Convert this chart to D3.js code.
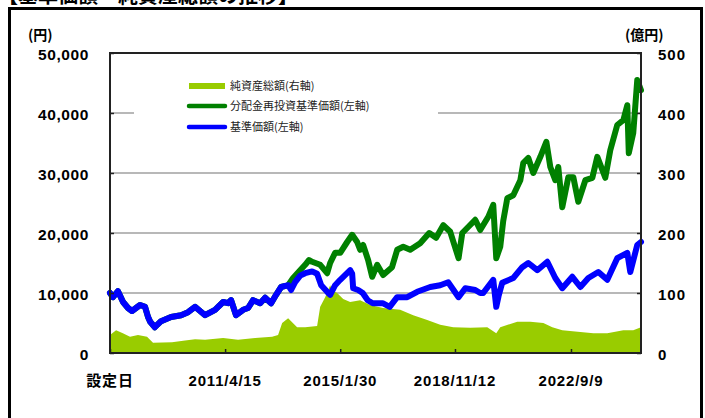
<!DOCTYPE html>
<html>
<head>
<meta charset="utf-8">
<script src="https://cdn.jsdelivr.net/npm/d3@7"></script>
<style>
  body { margin: 0; background: #fff; }
  svg { display: block; }
</style>
</head>
<body>
<script>
// 基準価額（円）
var navDates = ["2007-06-29","2007-08-04","2007-10-03","2007-12-03","2008-02-01","2008-03-20","2008-06-25","2008-08-24",
  "2008-09-29","2008-10-25","2008-12-20","2009-03-05","2009-07-03","2009-11-01","2010-01-24","2010-04-18","2010-08-17",
  "2010-12-15","2011-03-22","2011-05-21","2011-06-26","2011-08-25","2011-11-18","2012-01-17","2012-03-17","2012-06-10",
  "2012-08-09","2012-10-20","2012-12-19","2013-02-18","2013-05-13","2013-06-18","2013-08-05","2013-10-05","2013-12-04",
  "2014-02-26","2014-04-27","2014-06-15","2014-08-26","2014-10-01","2014-11-30","2015-01-30","2015-05-30","2015-06-23",
  "2015-07-05","2015-09-03","2015-10-28","2015-12-27","2016-02-25","2016-06-24","2016-09-17","2016-12-16","2017-04-16",
  "2017-08-14","2018-01-18","2018-05-18","2018-08-22","2018-09-16","2018-12-25","2019-03-16","2019-07-14","2019-09-12",
  "2019-10-18","2020-02-16","2020-03-23","2020-04-20","2020-06-03","2020-10-14","2021-01-30","2021-04-13","2021-07-30",
  "2021-11-28","2022-03-04","2022-05-27","2022-09-25","2022-12-31","2023-04-06","2023-08-04","2023-11-20","2024-03-19",
  "2024-07-18","2024-08-23","2024-11-15","2024-12-30"];
var navValues = [10000,9300,10300,8500,7500,7000,8000,7700,
  6000,5200,4300,5300,6000,6300,6800,7700,6300,
  7200,8500,8300,8800,6300,7200,7500,8800,8300,
  9200,8300,9700,11000,11300,10500,11800,12900,13300,
  13600,13200,11300,10200,9700,11300,12200,13800,13200,
  10800,10500,10000,8800,8300,8300,7700,9300,9300,
  10200,11000,11300,11800,11300,9300,10800,10500,10000,
  10000,12200,7700,9500,11700,12500,14300,15000,13800,
  15200,12500,10800,12700,11000,12500,13500,12200,15800,
  16700,13500,18000,18500];

// 分配金再投資基準価額（円）: 2013/5 までは基準価額と同じ
var reinvDates = ["2013-07-12","2013-10-05","2013-12-04","2014-01-20","2014-02-26","2014-06-03","2014-08-26","2014-10-01",
  "2014-11-30","2015-01-30","2015-04-24","2015-06-23","2015-08-22","2015-09-27","2015-11-02","2016-01-01","2016-02-19",
  "2016-04-19","2016-06-30","2016-10-15","2016-12-16","2017-02-27","2017-05-22","2017-09-19","2018-01-06","2018-03-30",
  "2018-06-24","2018-09-16","2018-12-25","2019-02-08","2019-04-20","2019-07-14","2019-09-12","2019-12-18","2020-02-16",
  "2020-03-23","2020-05-10","2020-06-15","2020-08-03","2020-10-14","2021-01-07","2021-02-12","2021-04-13","2021-06-12",
  "2021-09-05","2021-11-16","2022-01-03","2022-03-04","2022-04-09","2022-05-27","2022-08-08","2022-10-07","2022-12-06",
  "2023-03-01","2023-05-24","2023-07-23","2023-10-27","2023-12-26","2024-03-19","2024-05-31","2024-07-18","2024-08-05",
  "2024-09-28","2024-11-15","2024-12-30"];
var reinvValues = [12500,13800,14700,15500,15200,14700,13300,15000,
  16700,16700,18500,19700,18500,17200,18000,15500,12700,
  14700,13000,14300,17200,17700,17200,18300,20000,19200,
  21300,20200,15800,20000,21000,22200,20500,22700,24700,
  15800,17700,22000,25800,26300,28800,31700,32500,30000,
  32700,35200,31000,28800,31000,24300,29300,29300,25200,
  28800,29200,32700,29200,33800,38000,38800,41300,33300,
  36700,45500,43800];

// 純資産総額（億円）
var assetDates = ["2007-06-29","2007-09-10","2007-12-01","2008-02-25","2008-05-31","2008-09-17","2008-11-28","2009-07-15",
  "2009-12-19","2010-04-18","2010-08-17","2011-03-22","2011-09-18","2012-04-10","2012-11-01","2013-01-12","2013-03-02",
  "2013-05-13","2013-08-29","2013-12-04","2014-04-27","2014-06-03","2014-08-02","2014-10-01","2014-10-25","2014-12-24",
  "2015-03-07","2015-05-30","2015-09-27","2016-01-26","2016-06-30","2017-01-21","2017-06-27","2017-12-13","2018-05-18",
  "2018-10-22","2019-05-15","2019-12-06","2020-03-23","2020-05-10","2020-12-01","2021-05-07","2021-10-11","2022-01-27",
  "2022-05-27","2022-12-31","2023-06-05","2023-11-20","2024-05-31","2024-09-28","2024-12-30"];
var assetValues = [30,38,33,27,30,27,17,18,
  21,23,22,25,22,25,27,30,50,
  58,43,43,45,77,93,113,105,100,
  90,85,88,80,75,72,63,55,47,
  43,42,43,33,43,52,52,50,43,
  38,35,33,33,38,38,43];

var xTickDates = ["2007-06-29","2011-04-15","2015-01-30","2018-11-12","2022-09-09"];
var xTickLabels = ["設定日","2011/4/15","2015/1/30","2018/11/12","2022/9/9"];
var leftTicks = [0,10000,20000,30000,40000,50000];
var rightTicks = [0,100,200,300,400,500];

var legendNames = ["純資産総額(右軸)","分配金再投資基準価額(左軸)","基準価額(左軸)"];

var width = 705, height = 418;
var parse = d3.timeParse("%Y-%m-%d");
var jpFont = "'Noto Sans CJK JP', sans-serif";
var numFont = "'Liberation Sans', Arial, sans-serif";

var svg = d3.select("body").append("svg")
    .attr("width", width)
    .attr("height", height);

var plot = {left: 110, right: 641, top: 53, bottom: 353};

var x = d3.scaleTime()
    .domain([parse("2007-06-29"), parse("2024-12-30")])
    .range([plot.left, plot.right]);
var yL = d3.scaleLinear().domain([0, 50000]).range([plot.bottom, plot.top]);
var yR = d3.scaleLinear().domain([0, 500]).range([plot.bottom, plot.top]);

var nav = navDates.map(function (d, i) { return {date: parse(d), v: navValues[i]}; });
var reinv = nav.filter(function (d) { return d.date <= parse("2013-05-13"); })
    .concat(reinvDates.map(function (d, i) { return {date: parse(d), v: reinvValues[i]}; }));
var assets = assetDates.map(function (d, i) { return {date: parse(d), v: assetValues[i]}; });

// title (top half is outside the picture)
svg.append("text")
    .attr("x", -2).attr("y", 3)
    .attr("font-family", jpFont).attr("font-weight", "bold").attr("font-size", 20)
    .text("【基準価額・純資産総額の推移】");

// outer frame
svg.append("rect")
    .attr("x", 9.5).attr("y", 8.5).attr("width", 692).attr("height", 430)
    .attr("fill", "none").attr("stroke", "#000").attr("stroke-width", 3);

// gridlines
svg.append("g").selectAll("line")
    .data(leftTicks.slice(1, -1))
    .enter().append("line")
    .attr("x1", plot.left).attr("x2", plot.right)
    .attr("y1", function (d) { return yL(d); })
    .attr("y2", function (d) { return yL(d); })
    .attr("stroke", "#a0a0a0").attr("stroke-width", 1.5);

// net assets area
svg.append("path")
    .datum(assets)
    .attr("fill", "#99cc00")
    .attr("d", d3.area()
        .x(function (d) { return x(d.date); })
        .y0(plot.bottom)
        .y1(function (d) { return yR(d.v); }));

var line = d3.line()
    .x(function (d) { return x(d.date); })
    .y(function (d) { return yL(d.v); });

svg.append("path")
    .datum(reinv)
    .attr("fill", "none").attr("stroke", "#008000").attr("stroke-width", 6)
    .attr("stroke-linejoin", "round").attr("stroke-linecap", "round")
    .attr("d", line);

svg.append("path")
    .datum(nav)
    .attr("fill", "none").attr("stroke", "#0000ff").attr("stroke-width", 6)
    .attr("stroke-linejoin", "round").attr("stroke-linecap", "round")
    .attr("d", line);

// legend (white box hides the gridline behind it)
svg.append("rect")
    .attr("x", 134).attr("y", 72).attr("width", 304).attr("height", 68)
    .attr("fill", "#fff");

var leg = svg.append("g").attr("font-family", jpFont).attr("font-size", 11).attr("fill", "#222");
leg.append("rect").attr("x", 189).attr("y", 83).attr("width", 36).attr("height", 6).attr("fill", "#99cc00");
leg.append("line").attr("x1", 189).attr("x2", 225).attr("y1", 106).attr("y2", 106)
    .attr("stroke", "#008000").attr("stroke-width", 4.5).attr("stroke-linecap", "round");
leg.append("line").attr("x1", 189).attr("x2", 225).attr("y1", 127).attr("y2", 127)
    .attr("stroke", "#0000ff").attr("stroke-width", 4.5).attr("stroke-linecap", "round");
leg.selectAll("text").data(legendNames).enter().append("text")
    .attr("x", 230)
    .attr("y", function (d, i) { return [86, 106, 127][i]; })
    .attr("dy", "0.35em")
    .text(function (d) { return d; });

// plot frame
svg.append("rect")
    .attr("x", plot.left).attr("y", plot.top)
    .attr("width", plot.right - plot.left).attr("height", plot.bottom - plot.top)
    .attr("fill", "none").attr("stroke", "#222").attr("stroke-width", 2);

// axes
var leftAxis = svg.append("g")
    .attr("transform", "translate(" + plot.left + ",0)")
    .call(d3.axisRight(yL).tickValues(leftTicks).tickSize(4).tickFormat(""));
var rightAxis = svg.append("g")
    .attr("transform", "translate(" + plot.right + ",0)")
    .call(d3.axisLeft(yR).tickValues(rightTicks).tickSize(4).tickFormat(""));
var bottomAxis = svg.append("g")
    .attr("transform", "translate(0," + plot.bottom + ")")
    .call(d3.axisTop(x).tickValues(xTickDates.map(parse)).tickSize(4).tickFormat(""));
[leftAxis, rightAxis, bottomAxis].forEach(function (a) {
  a.select(".domain").remove();
  a.selectAll(".tick line").attr("stroke", "#222").attr("stroke-width", 1.5);
});

// tick labels
svg.append("g").selectAll("text")
    .data(leftTicks).enter().append("text")
    .attr("x", 89).attr("y", function (d) { return yL(d) + 2; })
    .attr("dy", "0.35em").attr("text-anchor", "end")
    .attr("font-family", numFont).attr("font-weight", "bold").attr("font-size", 15.5)
    .attr("letter-spacing", 0.6)
    .text(function (d) { return d3.format(",")(d); });

svg.append("g").selectAll("text")
    .data(rightTicks).enter().append("text")
    .attr("x", 658).attr("y", function (d) { return yR(d) + 2; })
    .attr("dy", "0.35em")
    .attr("font-family", numFont).attr("font-weight", "bold").attr("font-size", 15)
    .attr("letter-spacing", 1)
    .text(function (d) { return d; });

svg.append("g").selectAll("text")
    .data(xTickDates).enter().append("text")
    .attr("x", function (d) { return x(parse(d)); })
    .attr("y", 386)
    .attr("text-anchor", "middle")
    .attr("font-family", function (d, i) { return i === 0 ? jpFont : numFont; })
    .attr("font-weight", "bold").attr("font-size", 15)
    .attr("letter-spacing", 0.8)
    .text(function (d, i) { return xTickLabels[i]; });

// unit labels
svg.append("text").attr("x", 28).attr("y", 40)
    .attr("font-family", jpFont).attr("font-weight", "bold").attr("font-size", 14)
    .text("(円)");
svg.append("text").attr("x", 625).attr("y", 40)
    .attr("font-family", jpFont).attr("font-weight", "bold").attr("font-size", 14)
    .text("(億円)");
</script>
</body>
</html>
